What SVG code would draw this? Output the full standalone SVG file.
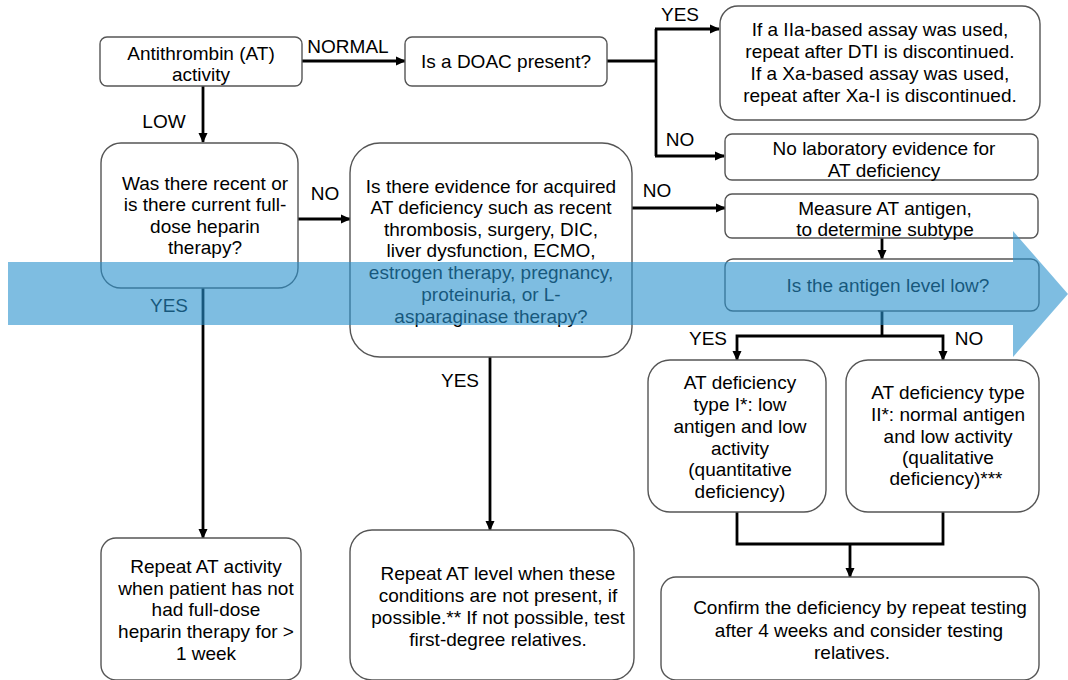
<svg xmlns="http://www.w3.org/2000/svg" width="1068" height="680" viewBox="0 0 1068 680">
<style>
.box{fill:#fff;stroke:#555;stroke-width:1.4}
.t{font-family:"Liberation Sans",Arial,sans-serif;font-size:19px;fill:#000;text-anchor:middle}
.c{fill:none;stroke:#000;stroke-width:2.8}
.a{marker-end:url(#ah)}
.band{fill:rgb(40,145,205);opacity:0.6}
</style>
<defs>
<marker id="ah" markerUnits="userSpaceOnUse" markerWidth="10" markerHeight="10" refX="9" refY="5" orient="auto">
<path d="M0,0.5 L10,5 L0,9.5 z" fill="#000"/>
</marker>
</defs>
<rect width="1068" height="680" fill="#fff"/>

<g id="connectors">
<line class="c a" x1="203" y1="86" x2="203" y2="142"/>
<line class="c a" x1="302" y1="61" x2="405" y2="61"/>
<polyline class="c" points="607,61 656,61"/>
<polyline class="c" points="656,29 656,156"/>
<line class="c a" x1="655" y1="29" x2="719" y2="29"/>
<line class="c a" x1="655" y1="156" x2="724" y2="156"/>
<line class="c a" x1="298" y1="219" x2="350" y2="219"/>
<line class="c a" x1="632" y1="208" x2="725" y2="208"/>
<line class="c a" x1="203" y1="288" x2="203" y2="538"/>
<line class="c a" x1="490" y1="357" x2="490" y2="530"/>
<line class="c a" x1="882" y1="238" x2="882" y2="259"/>
<polyline class="c" points="882,311 882,336"/>
<polyline class="c a" points="882,336 737,336 737,360"/>
<polyline class="c a" points="882,336 943,336 943,360"/>
<polyline class="c" points="737,512 737,544 943,544 943,512"/>
<line class="c a" x1="850" y1="544" x2="850" y2="577"/>
<text class="t" x="348" y="53">NORMAL</text>
<text class="t" x="164" y="128">LOW</text>
<text class="t" x="680" y="21">YES</text>
<text class="t" x="680" y="146">NO</text>
<text class="t" x="325" y="200">NO</text>
<text class="t" x="657" y="197">NO</text>
<text class="t" x="169" y="312">YES</text>
<text class="t" x="460" y="387">YES</text>
<text class="t" x="708" y="345">YES</text>
<text class="t" x="969" y="345">NO</text>
</g>

<g id="n-activity">
<rect class="box" x="100" y="37" width="202" height="49" rx="7"/>
<text class="t" x="201" y="60">Antithrombin (AT)</text>
<text class="t" x="201" y="81">activity</text>
</g>
<g id="n-doac">
<rect class="box" x="405" y="37" width="202" height="49" rx="7"/>
<text class="t" x="506" y="68">Is a DOAC present?</text>
</g>
<g id="n-assay">
<rect class="box" x="720" y="6" width="320" height="114" rx="18"/>
<text class="t" x="880" y="36">If a IIa-based assay was used,</text>
<text class="t" x="880" y="58">repeat after DTI is discontinued.</text>
<text class="t" x="880" y="80">If a Xa-based assay was used,</text>
<text class="t" x="880" y="102">repeat after Xa-I is discontinued.</text>
</g>
<g id="n-nolab">
<rect class="box" x="725" y="134" width="313" height="46" rx="7"/>
<text class="t" x="884" y="155">No laboratory evidence for</text>
<text class="t" x="884" y="177">AT deficiency</text>
</g>
<g id="n-measure">
<rect class="box" x="725" y="194" width="313" height="44" rx="7"/>
<text class="t" x="885" y="215">Measure AT antigen,</text>
<text class="t" x="885" y="236">to determine subtype</text>
</g>
<g id="n-antigenlow">
<rect class="box" x="725" y="259" width="314" height="52" rx="8"/>
<text class="t" x="888" y="292">Is the antigen level low?</text>
</g>
<g id="n-heparin">
<rect class="box" x="101" y="143" width="197" height="145" rx="20"/>
<text class="t" x="205" y="190">Was there recent or</text>
<text class="t" x="205" y="211">is there current full-</text>
<text class="t" x="205" y="233">dose heparin</text>
<text class="t" x="205" y="254">therapy?</text>
</g>
<g id="n-acquired">
<rect class="box" x="350" y="143" width="282" height="214" rx="30"/>
<text class="t" x="491" y="193">Is there evidence for acquired</text>
<text class="t" x="491" y="214">AT deficiency such as recent</text>
<text class="t" x="491" y="236">thrombosis, surgery, DIC,</text>
<text class="t" x="491" y="257">liver dysfunction, ECMO,</text>
<text class="t" x="491" y="279">estrogen therapy, pregnancy,</text>
<text class="t" x="491" y="301">proteinuria, or L-</text>
<text class="t" x="491" y="323">asparaginase therapy?</text>
</g>
<g id="n-type1">
<rect class="box" x="648" y="360" width="178" height="152" rx="22"/>
<text class="t" x="740" y="389">AT deficiency</text>
<text class="t" x="740" y="411">type I*: low</text>
<text class="t" x="740" y="433">antigen and low</text>
<text class="t" x="740" y="455">activity</text>
<text class="t" x="740" y="476">(quantitative</text>
<text class="t" x="740" y="498">deficiency)</text>
</g>
<g id="n-type2">
<rect class="box" x="846" y="360" width="193" height="152" rx="22"/>
<text class="t" x="948" y="399">AT deficiency type</text>
<text class="t" x="948" y="421">II*: normal antigen</text>
<text class="t" x="948" y="443">and low activity</text>
<text class="t" x="948" y="464">(qualitative</text>
<text class="t" x="946" y="485">deficiency)***</text>
</g>
<g id="n-repeat-activity">
<rect class="box" x="101" y="538" width="200" height="142" rx="15"/>
<text class="t" x="206" y="573">Repeat AT activity</text>
<text class="t" x="206" y="595">when patient has not</text>
<text class="t" x="206" y="616">had full-dose</text>
<text class="t" x="206" y="638">heparin therapy for &gt;</text>
<text class="t" x="206" y="660">1 week</text>
</g>
<g id="n-repeat-level">
<rect class="box" x="350" y="530" width="284" height="150" rx="22"/>
<text class="t" x="498" y="580">Repeat AT level when these</text>
<text class="t" x="498" y="602">conditions are not present, if</text>
<text class="t" x="498" y="624">possible.** If not possible, test</text>
<text class="t" x="498" y="646">first-degree relatives.</text>
</g>
<g id="n-confirm">
<rect class="box" x="661" y="577" width="378" height="103" rx="15"/>
<text class="t" x="860" y="614">Confirm the deficiency by repeat testing</text>
<text class="t" x="859" y="637">after 4 weeks and consider testing</text>
<text class="t" x="852" y="659">relatives.</text>
</g>

<g id="band-arrow">
<rect class="band" x="8" y="262" width="1005" height="63"/>
<polygon class="band" points="1013,231 1068,294 1013,357"/>
</g>
</svg>
